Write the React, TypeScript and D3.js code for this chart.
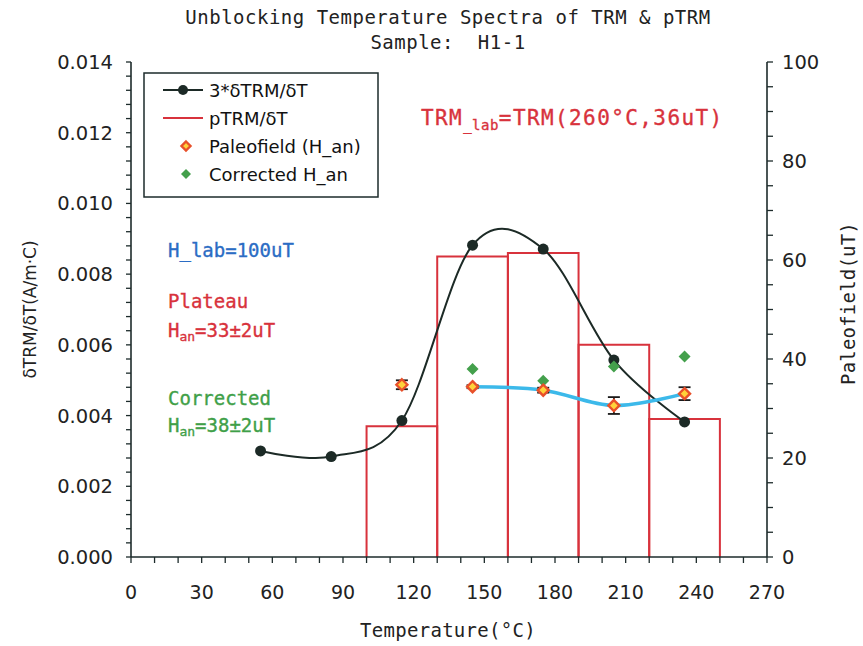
import React from "react";
import * as d3 from "d3";

// Temperatures of the measured steps (°C) and 3*dTRM/dT (A/m·C)
const temps = [55, 85, 115, 145, 175, 205, 235];
const trm3 = [0.003, 0.00284, 0.00386, 0.00882, 0.00871, 0.00557, 0.00382];

// pTRM/dT histogram: bin edges (°C) and heights (A/m·C)
const binEdges = [100, 130, 160, 190, 220, 250];
const ptrm = [0.0037, 0.0085, 0.0086, 0.006, 0.0039];

// Paleofield estimates (uT) with error bars
const paleoT = [115, 145, 175, 205, 235];
const paleo = [34.8, 34.4, 33.7, 30.6, 33.0];
const paleoErr = [0.9, 0.3, 0.5, 1.7, 1.3];

// Corrected paleofield (uT)
const corrT = [145, 175, 205, 235];
const corrected = [38.0, 35.6, 38.5, 40.5];

// Plateau steps used for the fitted curve
const plateauT = [145, 175, 205, 235];

const xTicks = [0, 30, 60, 90, 120, 150, 180, 210, 240, 270];
const yLeftTicks = [0, 0.002, 0.004, 0.006, 0.008, 0.01, 0.012, 0.014];
const yRightTicks = [0, 20, 40, 60, 80, 100];

const MONO = "'DejaVu Sans Mono', monospace";
const SANS = "'DejaVu Sans', Verdana, sans-serif";
const AXIS = "#1d2b2b";
const RED = "#d8323c";
const BLUE_TXT = "#2b6cc4";
const GREEN = "#3fa048";
const FIT = "#3cb9ea";

const W = 863;
const H = 646;
const L = 131;
const R = 767;
const T = 62;
const B = 557;

export default function App() {
  const x = d3.scaleLinear().domain([0, 270]).range([L, R]);
  const yL = d3.scaleLinear().domain([0, 0.014]).range([B, T]);
  const yR = d3.scaleLinear().domain([0, 100]).range([B, T]);

  const trmLine = d3
    .line<number>()
    .x((_, i) => x(temps[i]))
    .y((d) => yL(d))
    .curve(d3.curveCardinal.tension(0));

  const fitVals = plateauT.map((t) => paleo[paleoT.indexOf(t)]);
  const fitLine = d3
    .line<number>()
    .x((_, i) => x(plateauT[i]))
    .y((d) => yR(d))
    .curve(d3.curveCardinal.tension(0));

  const minorX = d3.range(0, 271, 10);
  const minorL = d3.range(0, 0.01401, 0.0004);
  const minorR = d3.range(0, 101, 5);

  const diamond = (cx: number, cy: number, r: number) =>
    `M${cx},${cy - r}L${cx + r},${cy}L${cx},${cy + r}L${cx - r},${cy}Z`;

  const paleoMarker = (cx: number, cy: number, r: number, key?: string) => (
    <path key={key} d={diamond(cx, cy, r)} fill="#ffd23a" stroke="#e8502a" strokeWidth={2.4} />
  );
  const corrMarker = (cx: number, cy: number, r: number, key?: string) => (
    <path key={key} d={diamond(cx, cy, r)} fill="#44a04c" />
  );

  // histogram outline
  const bars = ptrm.map((v, i) => {
    const x0 = x(binEdges[i]);
    const x1 = x(binEdges[i + 1]);
    return (
      <path
        key={i}
        d={`M${x0},${yL(0)}V${yL(v)}H${x1}V${yL(0)}`}
        fill="none"
        stroke={RED}
        strokeWidth={2}
      />
    );
  });

  const monoText = { fontFamily: MONO, stroke: "currentColor", strokeWidth: 0.35 };

  return (
    <svg width={W} height={H} style={{ position: "absolute", left: 0, top: 0, background: "#fff" }}>
      {/* titles */}
      <text x={448} y={24} textAnchor="middle" fontFamily={MONO} fontSize={19} letterSpacing={0.5} fill="#222">
        Unblocking Temperature Spectra of TRM &amp; pTRM
      </text>
      <text x={448} y={49} textAnchor="middle" fontFamily={MONO} fontSize={19} letterSpacing={0.5} fill="#222" style={{ whiteSpace: "pre" }}>
        {"Sample:  H1-1"}
      </text>

      {/* histogram */}
      {bars}

      {/* axes */}
      <line x1={L} y1={B} x2={R} y2={B} stroke={AXIS} strokeWidth={1.6} />
      <line x1={L} y1={T} x2={L} y2={B} stroke={AXIS} strokeWidth={1.6} />
      <line x1={R} y1={T} x2={R} y2={B} stroke={AXIS} strokeWidth={1.6} />
      {minorX.map((t) => (
        <line key={"xt" + t} x1={x(t)} x2={x(t)} y1={B} y2={B + 6} stroke={AXIS} strokeWidth={1.3} />
      ))}
      {minorL.map((v, i) => (
        <line key={"lt" + i} x1={L - 5} x2={L} y1={yL(v)} y2={yL(v)} stroke={AXIS} strokeWidth={1.3} />
      ))}
      {minorR.map((v) => (
        <line key={"rt" + v} x1={R} x2={R + 6} y1={yR(v)} y2={yR(v)} stroke={AXIS} strokeWidth={1.3} />
      ))}
      {xTicks.map((t) => (
        <text key={"xl" + t} x={x(t)} y={599} textAnchor="middle" fontFamily={SANS} fontSize={19} fill="#222">
          {t}
        </text>
      ))}
      {yLeftTicks.map((v) => (
        <text key={"yl" + v} x={113} y={yL(v) + 7} textAnchor="end" fontFamily={SANS} fontSize={19.5} fill="#222">
          {v.toFixed(3)}
        </text>
      ))}
      {yRightTicks.map((v) => (
        <text key={"yr" + v} x={782} y={yR(v) + 7} textAnchor="start" fontFamily={SANS} fontSize={19.5} fill="#222">
          {v}
        </text>
      ))}
      <text x={448} y={637} textAnchor="middle" fontFamily={MONO} fontSize={19} letterSpacing={0.3} fill="#222">
        Temperature(°C)
      </text>
      <text transform={`translate(36,${(T + B) / 2}) rotate(-90)`} textAnchor="middle" fontFamily={SANS} fontSize={17} fill="#222">
        δTRM/δT(A/m·C)
      </text>
      <text transform={`translate(855,${(T + B) / 2 - 6}) rotate(-90)`} textAnchor="middle" fontFamily={MONO} fontSize={19} letterSpacing={0.2} fill="#222">
        Paleofield(uT)
      </text>

      {/* 3*dTRM/dT curve */}
      <path d={trmLine(trm3) || ""} fill="none" stroke="#1c2a26" strokeWidth={2} />
      {trm3.map((v, i) => (
        <circle key={"c" + i} cx={x(temps[i])} cy={yL(v)} r={5.5} fill="#1c2a26" />
      ))}

      {/* plateau fit */}
      <path d={fitLine(fitVals) || ""} fill="none" stroke={FIT} strokeWidth={3.5} strokeLinecap="round" />

      {/* error bars */}
      {paleo.map((v, i) => {
        const cx = x(paleoT[i]);
        const y0 = yR(v - paleoErr[i]);
        const y1 = yR(v + paleoErr[i]);
        return (
          <g key={"e" + i} stroke="#1a1a1a" strokeWidth={1.8}>
            <line x1={cx} x2={cx} y1={y0} y2={y1} />
            <line x1={cx - 6} x2={cx + 6} y1={y0} y2={y0} />
            <line x1={cx - 6} x2={cx + 6} y1={y1} y2={y1} />
          </g>
        );
      })}
      {corrected.map((v, i) => corrMarker(x(corrT[i]), yR(v), 6, "g" + i))}
      {paleo.map((v, i) => paleoMarker(x(paleoT[i]), yR(v), 5.5, "p" + i))}

      {/* legend */}
      <rect x={144} y={73} width={234} height={124} fill="#fff" stroke={AXIS} strokeWidth={1.5} />
      <line x1={163} x2={203} y1={90} y2={90} stroke="#1c2a26" strokeWidth={2} />
      <circle cx={183} cy={90} r={5} fill="#1c2a26" />
      <text x={209} y={97} fontFamily={SANS} fontSize={18} fill="#111">3*δTRM/δT</text>
      <line x1={163} x2={203} y1={118} y2={118} stroke={RED} strokeWidth={2} />
      <text x={209} y={125} fontFamily={SANS} fontSize={18} fill="#111">pTRM/δT</text>
      {paleoMarker(186, 146, 4.5)}
      <text x={209} y={153} fontFamily={SANS} fontSize={18} fill="#111">Paleofield (H_an)</text>
      {corrMarker(186, 174, 5)}
      <text x={209} y={181} fontFamily={SANS} fontSize={18} fill="#111">Corrected H_an</text>

      {/* annotations */}
      <text x={421} y={125} fontSize={21} letterSpacing={1.4} fill={RED} color={RED} style={monoText}>
        TRM
        <tspan fontSize={14} dy={5} letterSpacing={0.5}>_lab</tspan>
        <tspan dy={-5}>=TRM(260°C,36uT)</tspan>
      </text>
      <text x={168} y={257} fontSize={19} fill={BLUE_TXT} color={BLUE_TXT} style={monoText}>H_lab=100uT</text>
      <text x={168} y={308} fontSize={19} fill={RED} color={RED} style={monoText}>Plateau</text>
      <text x={168} y={337} fontSize={19} fill={RED} color={RED} style={monoText}>
        H<tspan fontSize={13} dy={4}>an</tspan>
        <tspan dy={-4}>=33±2uT</tspan>
      </text>
      <text x={168} y={405} fontSize={19} fill={GREEN} color={GREEN} style={monoText}>Corrected</text>
      <text x={168} y={432} fontSize={19} fill={GREEN} color={GREEN} style={monoText}>
        H<tspan fontSize={13} dy={4}>an</tspan>
        <tspan dy={-4}>=38±2uT</tspan>
      </text>
    </svg>
  );
}
